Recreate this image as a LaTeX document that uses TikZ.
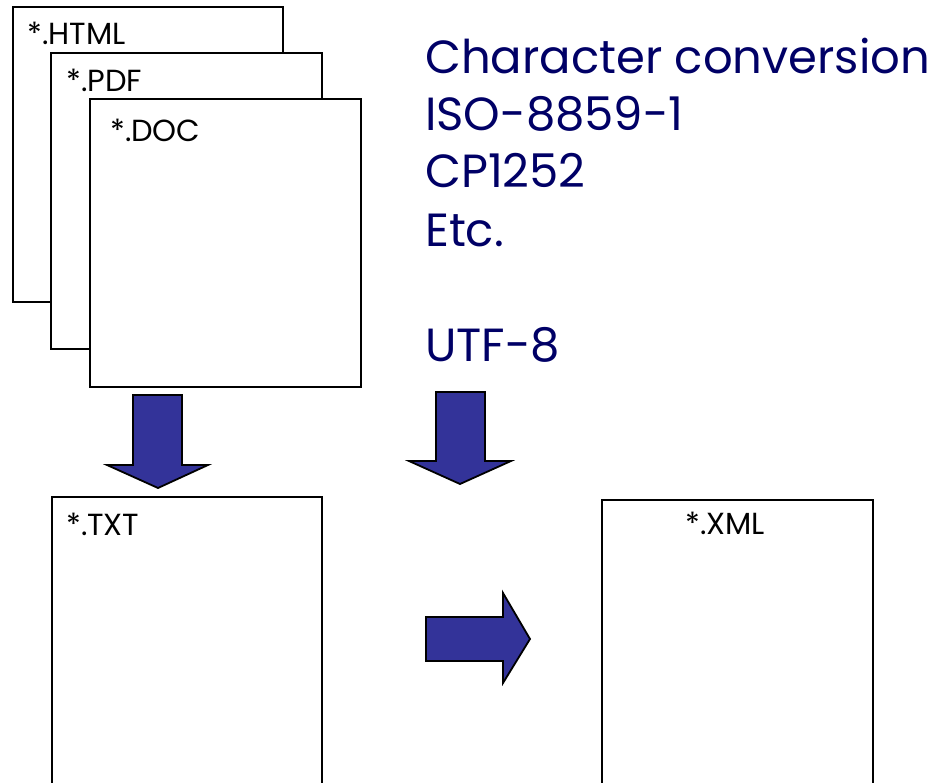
\documentclass[tikz,border=0pt]{standalone}
\usepackage{fontspec}
\setmainfont{Poppins}
\definecolor{arrowblue}{HTML}{333399}
\definecolor{navytext}{HTML}{000066}
\tikzset{
  docbox/.style={draw=black, fill=white, line width=1.8pt},
  doclabel/.style={anchor=base west, inner sep=0pt, font=\fontsize{30.5}{30.5}\selectfont, text=black},
  bluelabel/.style={anchor=base west, inner sep=0pt, font=\fontsize{46.5}{46.5}\selectfont, text=navytext},
  fatarrow/.style={draw=black, fill=arrowblue, line width=1.8pt, line join=miter},
}
\begin{document}
\begin{tikzpicture}[x=1pt,y=-1pt]
\useasboundingbox (0,0) rectangle (934,783);
\clip (0,0) rectangle (934,783);
% stacked documents
\draw[docbox] (13,7) rectangle (283,302);
\node[doclabel] (lhtml) at (27,45) {*.HTML};
\draw[docbox] (51,53) rectangle (322,349);
\node[doclabel] (lpdf) at (66,92) {*.PDF};
\draw[docbox] (90,99) rectangle (361,387);
\node[doclabel] (ldoc) at (110,142) {*.DOC};
% lower documents
\draw[docbox] (52,497) rectangle (322,900);
\node[doclabel] (ltxt) at (66,535) {*.TXT};
\draw[docbox] (602,500) rectangle (873,900);
\node[doclabel] (lxml) at (685,534) {*.XML};
% text
\node[bluelabel] (t1) at (425,74) {Character conversion};
\node[bluelabel] (t2) at (425,131) {ISO-8859-1};
\node[bluelabel] (t3) at (425,188) {CP1252};
\node[bluelabel] (t4) at (425,247) {Etc.};
\node[bluelabel] (t5) at (425,362) {UTF-8};
% arrows
\draw[fatarrow] (133,395) -- (182,395) -- (182,465) -- (208,465) -- (158,488) -- (107,465) -- (133,465) -- cycle;
\draw[fatarrow] (436,392) -- (485,392) -- (485,461) -- (511,461) -- (460,484) -- (409,461) -- (436,461) -- cycle;
\draw[fatarrow] (426,617) -- (503,617) -- (503,593) -- (530,639) -- (503,683) -- (503,661) -- (426,661) -- cycle;
\end{tikzpicture}
\end{document}
